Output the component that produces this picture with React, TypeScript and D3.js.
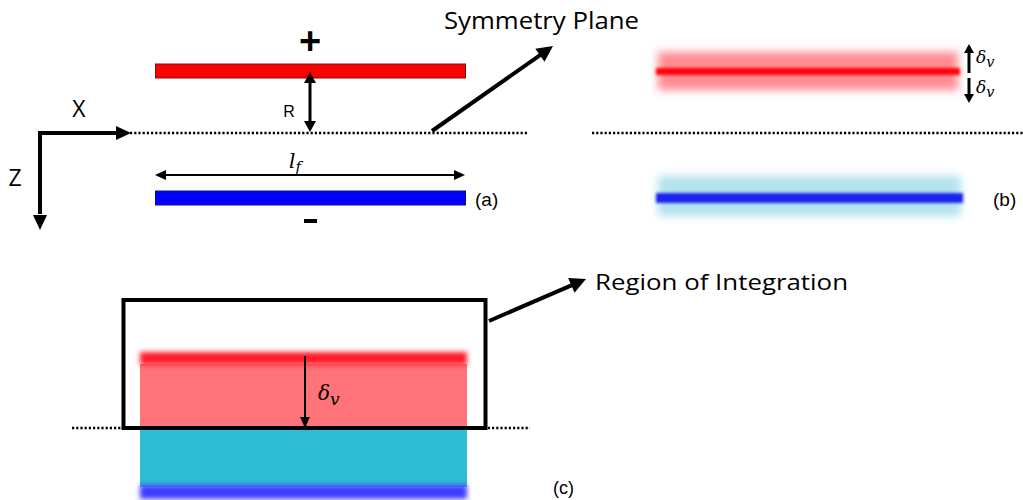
import React from "react";
import * as d3 from "d3";

// panel labels and texts
const panelLabels = ["(a)", "(b)", "(c)"];
const calloutTexts = ["Symmetry Plane", "Region of Integration"];
const axisLabels = ["X", "Z"];
const chargeSigns = ["+", "-"];

const W = 1023;
const H = 500;

const line = d3.line<[number, number]>();

// arrowhead polygon at tip, pointing from (x0,y0) to (x1,y1)
function head(x0: number, y0: number, x1: number, y1: number, len = 13, wid = 7) {
  const a = Math.atan2(y1 - y0, x1 - x0);
  const bx = x1 - len * Math.cos(a);
  const by = y1 - len * Math.sin(a);
  const px = -Math.sin(a) * wid;
  const py = Math.cos(a) * wid;
  return line([
    [x1, y1],
    [bx + px, by + py],
    [bx - px, by - py],
  ]) + "Z";
}

function Arrow({ x0, y0, x1, y1, w = 4, len = 13, wid = 7, both = false }: any) {
  const a = Math.atan2(y1 - y0, x1 - x0);
  const sx = both ? x0 + (len - 2) * Math.cos(a) : x0;
  const sy = both ? y0 + (len - 2) * Math.sin(a) : y0;
  const ex = x1 - (len - 2) * Math.cos(a);
  const ey = y1 - (len - 2) * Math.sin(a);
  return (
    <g>
      <path d={line([[sx, sy], [ex, ey]]) || ""} stroke="#000" strokeWidth={w} fill="none" />
      <path d={head(x0, y0, x1, y1, len, wid)} fill="#000" />
      {both && <path d={head(x1, y1, x0, y0, len, wid)} fill="#000" />}
    </g>
  );
}

function Delta({ x, y, size = 18 }: any) {
  return (
    <text x={x} y={y} fontFamily="DejaVu Serif" fontStyle="italic" fontSize={size}>
      δ<tspan fontSize={size * 0.85} dy={size * 0.25}>v</tspan>
    </text>
  );
}

export default function App() {
  const sans = "Open Sans";
  const dot = { stroke: "#000", strokeWidth: 2.6, strokeDasharray: "2.2 2" };
  return (
    <svg width={W} height={H} style={{ position: "absolute", left: 0, top: 0 }} fontFamily={sans}>
      <defs>
        <filter id="b1" x="-20%" y="-200%" width="140%" height="500%">
          <feGaussianBlur stdDeviation="1.6" />
        </filter>
        <filter id="b4" x="-20%" y="-200%" width="140%" height="500%">
          <feGaussianBlur stdDeviation="4" />
        </filter>
        <filter id="b2" x="-20%" y="-100%" width="140%" height="300%">
          <feGaussianBlur stdDeviation="2.5" />
        </filter>
      </defs>
      <rect width={W} height={H} fill="#fff" />

      {/* ---------- panel (a) ---------- */}
      <rect x={155.5} y={64} width={310} height={14} fill="#ff0000" stroke="#7a1010" strokeWidth={1} />
      <rect x={155.5} y={191} width={310} height={14} fill="#0000ff" stroke="#10107a" strokeWidth={1} />
      <text x={310} y={54} textAnchor="middle" fontSize={38} fontWeight="bold" fontFamily="Liberation Sans">{chargeSigns[0]}</text>
      <rect x={304} y={219} width={13} height={4} fill="#000" />
      <line x1={130} y1={133} x2={527} y2={133} {...dot} />
      <Arrow x0={310} y0={72} x1={310} y1={132} w={3} len={11} wid={6} both />
      <text x={289} y={117} textAnchor="middle" fontSize={16} fontFamily="Liberation Sans">R</text>
      <Arrow x0={155} y0={175} x1={465} y1={175} w={2} len={11} wid={5} both />
      <text x={289} y={168} fontFamily="DejaVu Serif" fontStyle="italic" fontSize={20}>
        l<tspan fontSize={15} dy={4}>f</tspan>
      </text>
      <text x={475} y={206} fontSize={19} fontFamily="Liberation Sans">{panelLabels[0]}</text>

      {/* axes */}
      <path d={line([[40, 214], [40, 133], [120, 133]]) || ""} stroke="#000" strokeWidth={4} fill="none" />
      <path d={head(40, 133, 40, 230, 15, 7)} fill="#000" />
      <path d={head(40, 133, 131, 133, 15, 7)} fill="#000" />
      <text x={79} y={117} textAnchor="middle" fontSize={23}>{axisLabels[0]}</text>
      <text x={15} y={186} textAnchor="middle" fontSize={23}>{axisLabels[1]}</text>

      {/* symmetry plane callout */}
      <Arrow x0={432} y0={131} x1={553} y1={46} w={4} len={16} wid={8} />
      <text x={444} y={29} fontSize={24} textLength={195} lengthAdjust="spacingAndGlyphs">{calloutTexts[0]}</text>

      {/* ---------- panel (b) ---------- */}
      <line x1={592} y1={133} x2={1023} y2={133} {...dot} />
      <rect x={658} y={52} width={300} height={38} fill="#ff8a90" filter="url(#b4)" />
      <rect x={656} y={68} width={304} height={7} fill="#ff0010" filter="url(#b1)" />
      <rect x={658} y={176} width={303} height={40} fill="#b2e2ec" filter="url(#b4)" />
      <rect x={656} y={193} width={307} height={10} fill="#1a22f0" filter="url(#b1)" />
      <Arrow x0={969} y0={73} x1={969} y1={44} w={3} len={9} wid={5} />
      <Arrow x0={969} y0={78} x1={969} y1={103} w={3} len={9} wid={5} />
      <Delta x={976} y={63} size={17} />
      <Delta x={976} y={93} size={17} />
      <text x={993} y={206} fontSize={19} fontFamily="Liberation Sans">{panelLabels[1]}</text>

      {/* ---------- panel (c) ---------- */}
      <rect x={140} y={364} width={327} height={65} fill="#ff737b" />
      <rect x={140} y={429} width={327} height={58} fill="#2ebdd3" />
      <rect x={140} y={352} width={327} height={13} fill="#ff1a2c" filter="url(#b2)" />
      <rect x={140} y={485} width={327} height={14} fill="#3c3cff" filter="url(#b2)" />
      <line x1={72} y1={428} x2={530} y2={428} {...dot} />
      <rect x={123.5} y={300} width={362} height={128} fill="none" stroke="#000" strokeWidth={4} />
      <Arrow x0={305} y0={356} x1={305} y1={428} w={2} len={11} wid={5} />
      <Delta x={318} y={400} size={20} />
      <Arrow x0={489} y0={321} x1={586} y1={279} w={4} len={16} wid={8} />
      <text x={595} y={290} fontSize={22} textLength={253} lengthAdjust="spacingAndGlyphs">{calloutTexts[1]}</text>
      <text x={553} y={494} fontSize={18} fontFamily="Liberation Sans">{panelLabels[2]}</text>
    </svg>
  );
}
